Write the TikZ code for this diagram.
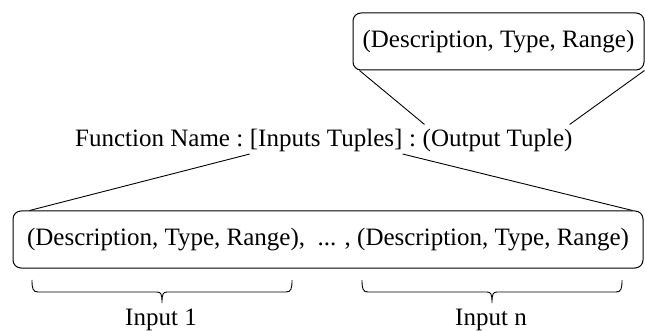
\documentclass[tikz,border=0pt]{standalone}
\usepackage{fontspec}
\setmainfont{Liberation Serif}
\begin{document}
\begin{tikzpicture}[x=1pt,y=-1pt,
  every node/.style={font=\fontsize{25}{30}\selectfont},
  tuplebox/.style={draw, line width=1pt, rounded corners=8pt, inner sep=0pt},
  word/.style={inner sep=0pt, anchor=base west},
  link/.style={line width=0.9pt},
  brace/.style={line width=0.9pt}]
\useasboundingbox (0,0) rectangle (645,331);

% tuple boxes
\node[tuplebox, minimum width=291pt, minimum height=57pt] (outbox) at (498.5,41.5)
  {(Description, Type, Range)};
\node[tuplebox, minimum width=630pt, minimum height=57pt] (inbox) at (328,239.5)
  {(Description, Type, Range),\ \ ... , (Description, Type, Range)};

% signature line, split so its parts can be linked
\node[word] (fname) at (75,147) {Function Name :};
\node[word, inner ysep=1.5pt] (inputs) at ([xshift=6.25pt]fname.base east) {[Inputs Tuples]};
\node[word] (colon) at ([xshift=6.25pt]inputs.base east) {:};
\node[word, inner ysep=5pt] (output) at ([xshift=6.25pt]colon.base east) {(Output Tuple)};

% links between the signature and the boxes
\draw[link] ([xshift=7pt]outbox.south west) -- ([xshift=2pt]output.north west);
\draw[link] (outbox.south east) -- ([xshift=-3pt]output.north east);
\draw[link] (inputs.south west) -- ([xshift=17pt]inbox.north west);
\draw[link] (inputs.south east) -- ([xshift=-11pt]inbox.north east);

% braces under the input box
\draw[brace] (32,280) .. controls (32,289) and (33,292) .. (38,292) -- (157,292)
  .. controls (161,292) and (162,294) .. (162,303)
  .. controls (162,294) and (163,292) .. (167,292) -- (286,292)
  .. controls (291,292) and (292,289) .. (292,280);
\draw[brace] (362,280) .. controls (362,289) and (363,292) .. (368,292) -- (487,292)
  .. controls (491,292) and (492,294) .. (492,303)
  .. controls (492,294) and (493,292) .. (497,292) -- (616,292)
  .. controls (621,292) and (622,289) .. (622,280);

\node[anchor=base] (in1) at (161,325) {Input 1};
\node[anchor=base] (inn) at (491,325) {Input n};
\end{tikzpicture}
\end{document}
